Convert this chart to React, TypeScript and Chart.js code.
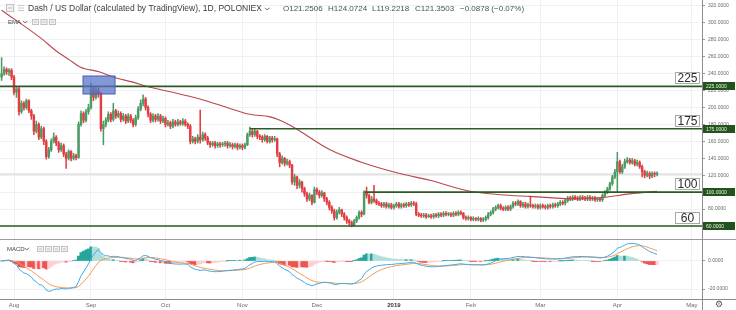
import React, { useEffect, useRef } from "react";
import { Chart, registerables } from "chart.js";
Chart.register(...registerables);

// ---- DATA (daily candles, day index 0 = 27 Jul 2018) ----
const firstOpen = 236;
const closes: number[] = [
  240, 245, 242, 244, 236, 218, 222, 195, 205, 200,
  208, 196, 190, 172, 180, 165, 175, 160, 142, 150,
  160, 165, 158, 150, 155, 145, 140, 148, 140, 143,
  141, 180, 193, 185, 195, 200, 222, 212, 220, 216,
  175, 180, 185, 192, 186, 196, 190, 193, 186, 190,
  184, 190, 185, 180, 188, 198, 205, 210, 200, 192,
  185, 190, 186, 190, 184, 187, 180, 182, 178, 183,
  180, 183, 181, 184, 180, 178, 160, 163, 160, 165,
  162, 168, 164, 158, 156, 158, 155, 157, 156, 157, 158,
  155, 156, 154, 156, 153, 155, 153, 156, 168, 172,
  168, 172, 166, 165, 162, 166, 160, 164, 162, 163,
  145, 135, 140, 134, 136, 132, 112, 118, 108, 112,
  104, 98, 92, 96, 88, 103, 100, 96, 99, 92,
  88, 82, 78, 70, 76, 79, 74, 70, 66, 64,
  61, 66, 70, 76, 74, 100, 96, 88, 92, 90,
  87, 86, 84, 86, 83, 85, 82, 84, 86, 83,
  85, 84, 86, 85, 87, 86, 74, 73, 72, 73,
  71, 72, 71, 73, 72, 74, 73, 75, 74, 74, 73,
  75, 74, 76, 75, 70, 69, 70, 68, 69, 68,
  69, 67, 68, 70, 74, 76, 80, 82, 84, 81,
  80, 82, 80, 83, 87, 86, 89, 84, 86, 83,
  85, 84, 83, 84, 82, 84, 83, 82, 84, 83,
  85, 84, 86, 88, 87, 90, 93, 92, 94, 93,
  92, 94, 93, 92, 94, 92, 93, 91, 92, 91,
  96, 100, 104, 110, 118, 124, 136, 124, 130, 136,
  138, 135, 137, 133, 135, 130, 124, 120, 122, 119,
  122, 121.2506, 121.3503,
];
const highs: number[] = [
  259, 248, 247, 246, 246, 238, 225, 224, 208, 207,
  210, 209, 198, 192, 184, 182, 178, 177, 162, 153,
  163, 170, 167, 160, 158, 157, 147, 150, 149, 146,
  145, 183, 196, 195, 198, 204, 229, 224, 224, 223,
  218, 184, 188, 195, 194, 205, 198, 196, 195, 193,
  192, 193, 192, 187, 191, 201, 209, 215, 212, 202,
  194, 193, 192, 193, 192, 190, 189, 185, 184, 186,
  185, 186, 185, 187, 186, 182, 180, 166, 165, 168,
  197, 171, 170, 166, 160, 160, 160, 159, 159, 159, 160,
  160, 159, 158, 158, 158, 157, 157, 158, 170, 177,
  174, 175, 173, 168, 167, 168, 167, 166, 166, 166,
  164, 147, 143, 141, 139, 138, 133, 121, 119, 115,
  113, 106, 100, 99, 97, 106, 105, 102, 102, 100,
  94, 90, 84, 80, 79, 82, 80, 76, 72, 68,
  66, 68, 72, 78, 78, 102, 106, 98, 95, 108,
  92, 89, 88, 88, 88, 87, 87, 86, 88, 88,
  87, 87, 88, 88, 89, 89, 88, 76, 75, 75,
  75, 74, 74, 75, 75, 76, 76, 77, 77, 76, 76,
  77, 77, 78, 78, 76, 72, 72, 71, 71, 70,
  71, 70, 70, 72, 76, 78, 82, 84, 86, 86,
  83, 84, 84, 85, 89, 89, 91, 90, 88, 88,
  87, 94, 86, 86, 86, 86, 86, 85, 86, 86,
  87, 87, 88, 90, 90, 92, 95, 95, 96, 96,
  95, 96, 96, 95, 96, 96, 95, 95, 94, 94,
  98, 102, 106, 112, 120, 127, 147, 138, 133, 139,
  141, 140, 140, 139, 138, 137, 132, 126, 125, 124,
  124, 124, 124.0724,
];
const lows: number[] = [
  232, 238, 239, 238, 233, 215, 212, 191, 193, 197,
  198, 194, 186, 168, 170, 162, 163, 156, 139, 140,
  148, 158, 155, 147, 148, 142, 128, 138, 137, 138,
  138, 140, 178, 182, 183, 192, 198, 208, 210, 212,
  172, 156, 177, 183, 183, 184, 187, 188, 183, 184,
  181, 182, 182, 177, 178, 186, 196, 202, 197, 189,
  182, 183, 183, 184, 181, 182, 177, 178, 175, 176,
  178, 178, 179, 179, 178, 175, 157, 158, 157, 158,
  158, 160, 161, 156, 153, 154, 152, 153, 153, 154, 154,
  152, 153, 151, 152, 150, 151, 150, 151, 155, 166,
  165, 166, 163, 162, 159, 160, 158, 158, 159, 160,
  142, 130, 133, 131, 132, 129, 109, 108, 104, 105,
  100, 95, 89, 90, 85, 87, 97, 93, 94, 89,
  85, 79, 75, 67, 68, 74, 71, 67, 63, 61,
  59, 60, 64, 68, 71, 73, 93, 86, 86, 88,
  85, 84, 82, 82, 81, 81, 80, 80, 82, 81,
  81, 82, 82, 83, 83, 84, 72, 71, 70, 70,
  69, 70, 69, 69, 70, 70, 71, 71, 72, 72, 71,
  71, 72, 72, 73, 68, 67, 67, 66, 66, 66,
  66, 65, 65, 66, 68, 72, 74, 78, 80, 79,
  78, 78, 78, 78, 81, 84, 84, 82, 82, 81,
  81, 82, 81, 81, 80, 80, 81, 80, 80, 81,
  81, 82, 82, 84, 85, 85, 88, 90, 90, 91,
  90, 90, 91, 90, 90, 90, 90, 89, 89, 89,
  89, 94, 98, 102, 108, 116, 100, 122, 122, 128,
  134, 133, 133, 131, 131, 128, 118, 117, 118, 116,
  117, 118, 119.2218,
];

// EMA line (day index, value)
const emaDays: number[] = [0, 16.7, 21.5, 27.5, 31.6, 39.6, 44.9, 52.9, 59.8, 69, 79.9, 90.8, 100, 108.1, 112.1, 116.2, 120.2, 132.3, 144.3, 160.4, 172.5, 188.6, 200.7, 212.8, 233, 243, 253, 264];
const emaValues: number[] = [315, 280, 268, 256, 248, 242, 236, 230, 224, 218, 210, 200, 192, 189, 185, 179, 172, 150, 136, 122, 114, 101, 97, 95, 92, 94, 98, 101];

// month ticks
const monthDays: number[] = [5, 36, 66, 97, 127, 158, 189, 217, 248, 278];
const monthLabels: string[] = ["Aug", "Sep", "Oct", "Nov", "Dec", "2019", "Feb", "Mar", "Apr", "May"];
const yearDay = 158;

const priceTicks: number[] = [60, 80, 100, 120, 140, 160, 180, 200, 220, 240, 260, 280, 300, 320];
const macdTicks: number[] = [0, -20];

// horizontal levels and where they start
const levelValues: number[] = [225, 175, 100, 60];
const levelStartDays: number[] = [-1, 100, 146.3, -1];
const lastPrice = 121.3503;

// highlighted box (days / prices)
const boxDays: number[] = [32.8, 45.7];
const boxPrices: number[] = [216, 237.3];

const legendTitle = "Dash / US Dollar (calculated by TradingView), 1D, POLONIEX";
const legendValues: string[] = ["O121.2506", "H124.0724", "L119.2218", "C121.3503", "\u22120.0878 (\u22120.07%)"];

// ---- view ----
const XMIN = -0.64;
const XMAX = 282.1;
const PMIN = 44.64;
const PMAX = 327.09;
const MMIN = -27.14;
const MMAX = 15.71;
const FF = "'Liberation Sans', Arial, sans-serif";

function emaCalc(arr: number[], n: number): number[] {
  const a = 2 / (n + 1);
  const out: number[] = [];
  let e = arr[0];
  for (const v of arr) {
    e = e + a * (v - e);
    out.push(e);
  }
  return out;
}

function text(ctx: CanvasRenderingContext2D, s: string, x: number, y: number, font: string, color: string, align: CanvasTextAlign = "left") {
  ctx.font = font;
  ctx.fillStyle = color;
  ctx.textAlign = align;
  ctx.textBaseline = "middle";
  ctx.fillText(s, x, y);
}
function chevron(ctx: CanvasRenderingContext2D, x: number, y: number, color: string) {
  ctx.beginPath();
  ctx.moveTo(x, y - 1.2);
  ctx.lineTo(x + 2.2, y + 1);
  ctx.lineTo(x + 4.4, y - 1.2);
  ctx.strokeStyle = color;
  ctx.lineWidth = 0.9;
  ctx.stroke();
}
function iconBox(ctx: CanvasRenderingContext2D, x: number, y: number, w: number, h: number) {
  ctx.fillStyle = "#f2f2f2";
  ctx.fillRect(x, y, w, h);
  ctx.strokeStyle = "#c2c2c2";
  ctx.lineWidth = 1;
  ctx.strokeRect(x + 0.5, y + 0.5, w - 1, h - 1);
  ctx.fillStyle = "#bdbdbd";
  ctx.fillRect(x + 2, y + h / 2 - 0.5, w - 4, 1);
}

export default function App() {
  const ref1 = useRef<HTMLCanvasElement>(null);
  const ref2 = useRef<HTMLCanvasElement>(null);

  useEffect(() => {
    const opens = closes.map((c, i) => (i === 0 ? firstOpen : closes[i - 1]));
    const up = "#4d9a64";
    const down = "#e33d42";
    const cols = closes.map((c, i) => (c >= opens[i] ? up : down));

    const gridColor = "#eef0f3";

    const overlay1 = {
      id: "overlay1",
      afterDatasetsDraw(chart: any) {
        const { ctx, scales } = chart;
        const x = scales.x, y = scales.y;
        const x1 = x.getPixelForValue(boxDays[0]);
        const x2 = x.getPixelForValue(boxDays[1]);
        const y1 = y.getPixelForValue(boxPrices[1]);
        const y2 = y.getPixelForValue(boxPrices[0]);
        ctx.save();
        ctx.fillStyle = "rgba(84,112,200,0.72)";
        ctx.fillRect(x1, y1, x2 - x1, y2 - y1);
        ctx.strokeStyle = "#4b5fb4";
        ctx.lineWidth = 1;
        ctx.strokeRect(x1, y1, x2 - x1, y2 - y1);
        ctx.restore();
      },
      afterDraw(chart: any) {
        const { ctx, scales, chartArea } = chart;
        const y = scales.y;
        ctx.save();
        levelValues.forEach((lv) => {
          const py = Math.round(y.getPixelForValue(lv));
          const bx = chartArea.right - 27;
          ctx.fillStyle = "#ffffff";
          ctx.fillRect(bx, py - 14, 25, 12);
          ctx.strokeStyle = "#a8a8a8";
          ctx.lineWidth = 1;
          ctx.strokeRect(bx + 0.5, py - 13.5, 24, 11);
          text(ctx, String(lv), bx + 12.5, py - 7.5, `12px ${FF}`, "#2a2a2a", "center");
          ctx.fillStyle = "#24521f";
          ctx.fillRect(chartArea.right + 1, py - 4, 32, 8);
          text(ctx, lv.toFixed(4), chartArea.right + 4, py + 0.3, `5px ${FF}`, "#e9f2e4");
        });
        // top legend
        iconBox(ctx, 6, 4, 8, 8);
        ctx.fillStyle = "#c8c8c8";
        ctx.fillRect(18, 5, 6, 1);
        ctx.fillRect(18, 7.5, 6, 1);
        ctx.fillRect(18, 10, 6, 1);
        text(ctx, legendTitle, 28, 9, `8.5px ${FF}`, "#3c3c3c");
        chevron(ctx, 265, 9, "#555");
        const lx = [283, 328, 372, 415, 460];
        legendValues.forEach((s, i) => text(ctx, s, lx[i], 9, `8px ${FF}`, "#3d5c44"));
        // EMA label
        text(ctx, "EMA", 8, 22, `6px ${FF}`, "#444");
        chevron(ctx, 23, 22, "#555");
        iconBox(ctx, 32, 19, 7, 6);
        iconBox(ctx, 40.5, 19, 7, 6);
        iconBox(ctx, 49, 19, 7, 6);
        ctx.restore();
      },
    };

    const levelDatasets = levelValues.map((lv, i) => ({
      type: "line" as const,
      data: [
        { x: levelStartDays[i] < 0 ? XMIN : levelStartDays[i], y: lv },
        { x: XMAX, y: lv },
      ],
      borderColor: "#2c5a25",
      borderWidth: 1.6,
      pointRadius: 0,
      order: 1,
    }));

    const c1 = new Chart(ref1.current as HTMLCanvasElement, {
      type: "line",
      data: {
        datasets: [
          {
            type: "line",
            data: [
              { x: XMIN, y: lastPrice },
              { x: XMAX, y: lastPrice },
            ],
            borderColor: "#cfcfcf",
            borderWidth: 1,
            pointRadius: 0,
            order: 10,
          } as any,
          {
            type: "bar",
            data: closes.map((c, i) => ({ x: i, y: [lows[i], highs[i]] })),
            backgroundColor: cols,
            barThickness: 0.9,
            grouped: false,
            order: 9,
          } as any,
          {
            type: "bar",
            data: closes.map((c, i) => ({ x: i, y: [opens[i], c] })),
            backgroundColor: cols,
            barThickness: 1.8,
            grouped: false,
            minBarLength: 0.8,
            order: 8,
          } as any,
          {
            type: "line",
            data: emaDays.map((d, i) => ({ x: d, y: emaValues[i] })),
            borderColor: "#b9474d",
            borderWidth: 1.1,
            pointRadius: 0,
            cubicInterpolationMode: "monotone",
            order: 7,
          } as any,
          ...(levelDatasets as any[]),
        ],
      },
      options: {
        animation: false,
        responsive: false,
        maintainAspectRatio: false,
        layout: { padding: 0 },
        plugins: { legend: { display: false }, tooltip: { enabled: false } },
        scales: {
          x: {
            type: "linear",
            min: XMIN,
            max: XMAX,
            offset: false,
            grid: { color: gridColor, drawTicks: false, offset: false },
            border: { display: false },
            ticks: { display: false },
            afterBuildTicks: (s: any) => {
              s.ticks = monthDays.map((v) => ({ value: v }));
            },
            afterFit: (s: any) => {
              s.height = 0;
              s.paddingLeft = 0;
              s.paddingRight = 0;
            },
          },
          y: {
            type: "linear",
            position: "right",
            min: PMIN,
            max: PMAX,
            grid: { color: gridColor, tickLength: 3, tickColor: "#9a9a9a" },
            border: { color: "#8c8c8c" },
            ticks: {
              font: { family: FF, size: 5 },
              color: "#6a6a6a",
              padding: 3,
              callback: (v: any) => Number(v).toFixed(4),
            },
            afterBuildTicks: (s: any) => {
              s.ticks = priceTicks.map((v) => ({ value: v }));
            },
            afterFit: (s: any) => {
              s.width = 34;
              s.paddingTop = 0;
              s.paddingBottom = 0;
            },
          },
        },
      } as any,
      plugins: [overlay1],
    });

    // MACD (12, 26, 9) computed from the closes
    const e12 = emaCalc(closes, 12);
    const e26 = emaCalc(closes, 26);
    const macd = e12.map((v, i) => v - e26[i]);
    const signal = emaCalc(macd, 9);
    const hist = macd.map((v, i) => v - signal[i]);
    const histCols = hist.map((h, i) => {
      const p = i > 0 ? hist[i - 1] : h;
      if (h >= 0) return h >= p ? "#26a69a" : "#b2dfdb";
      return h <= p ? "#ef5350" : "#ffcdd2";
    });

    const overlay2 = {
      id: "overlay2",
      afterDraw(chart: any) {
        const { ctx, chartArea } = chart;
        ctx.save();
        ctx.fillStyle = "#9c9c9c";
        ctx.fillRect(0, 0, 736, 1);
        ctx.fillStyle = "#8c8c8c";
        ctx.fillRect(0, chartArea.bottom, 736, 1);
        ctx.fillRect(chartArea.right, 0, 1, 71);
        text(ctx, "MACD", 7, 10, `6px ${FF}`, "#444");
        chevron(ctx, 24.5, 10, "#555");
        iconBox(ctx, 37, 7, 7, 6);
        iconBox(ctx, 45, 7, 7, 6);
        iconBox(ctx, 53, 7, 7, 6);
        iconBox(ctx, 61, 7, 7, 6);
        text(ctx, "\u2699", 719, 66, `9px 'DejaVu Sans', sans-serif`, "#555", "center");
        ctx.restore();
      },
    };

    const c2 = new Chart(ref2.current as HTMLCanvasElement, {
      type: "line",
      data: {
        datasets: [
          {
            type: "line",
            data: macd.map((v, i) => ({ x: i, y: v })),
            borderColor: "#3ea8ee",
            borderWidth: 1,
            pointRadius: 0,
            order: 1,
          } as any,
          {
            type: "line",
            data: signal.map((v, i) => ({ x: i, y: v })),
            borderColor: "#f59a52",
            borderWidth: 1,
            pointRadius: 0,
            order: 2,
          } as any,
          {
            type: "bar",
            data: hist.map((v, i) => ({ x: i, y: v })),
            backgroundColor: histCols,
            barPercentage: 1,
            categoryPercentage: 1,
            grouped: false,
            order: 3,
          } as any,
        ],
      },
      options: {
        animation: false,
        responsive: false,
        maintainAspectRatio: false,
        layout: { padding: 0 },
        plugins: { legend: { display: false }, tooltip: { enabled: false } },
        scales: {
          x: {
            type: "linear",
            min: XMIN,
            max: XMAX,
            offset: false,
            grid: { color: gridColor, drawTicks: false, offset: false },
            border: { display: false },
            ticks: {
              autoSkip: false,
              maxRotation: 0,
              padding: 3,
              font: (c: any) => ({
                family: FF,
                size: 6,
                weight: c.tick && c.tick.value === yearDay ? "bold" : "normal",
              }),
              color: (c: any) => (c.tick && c.tick.value === yearDay ? "#333" : "#6a6a6a"),
              callback: (v: any, i: number) => monthLabels[i],
            },
            afterBuildTicks: (s: any) => {
              s.ticks = monthDays.map((v) => ({ value: v }));
            },
            afterFit: (s: any) => {
              s.height = 11;
              s.paddingLeft = 0;
              s.paddingRight = 0;
            },
          },
          y: {
            type: "linear",
            position: "right",
            min: MMIN,
            max: MMAX,
            grid: { color: gridColor, tickLength: 3, tickColor: "#9a9a9a" },
            border: { color: "#8c8c8c" },
            ticks: {
              font: { family: FF, size: 5 },
              color: "#6a6a6a",
              padding: 3,
              callback: (v: any) => Number(v).toFixed(4),
            },
            afterBuildTicks: (s: any) => {
              s.ticks = macdTicks.map((v) => ({ value: v }));
            },
            afterFit: (s: any) => {
              s.width = 34;
              s.paddingTop = 0;
              s.paddingBottom = 0;
            },
          },
        },
      } as any,
      plugins: [overlay2],
    });

    return () => {
      c1.destroy();
      c2.destroy();
    };
  }, []);

  return (
    <div style={{ position: "absolute", left: 0, top: 0, width: 736, height: 310, background: "#ffffff", overflow: "hidden" }}>
      <canvas ref={ref1} width={736} height={239} style={{ position: "absolute", left: 0, top: 0, width: 736, height: 239 }} />
      <canvas ref={ref2} width={736} height={71} style={{ position: "absolute", left: 0, top: 239, width: 736, height: 71 }} />
    </div>
  );
}
